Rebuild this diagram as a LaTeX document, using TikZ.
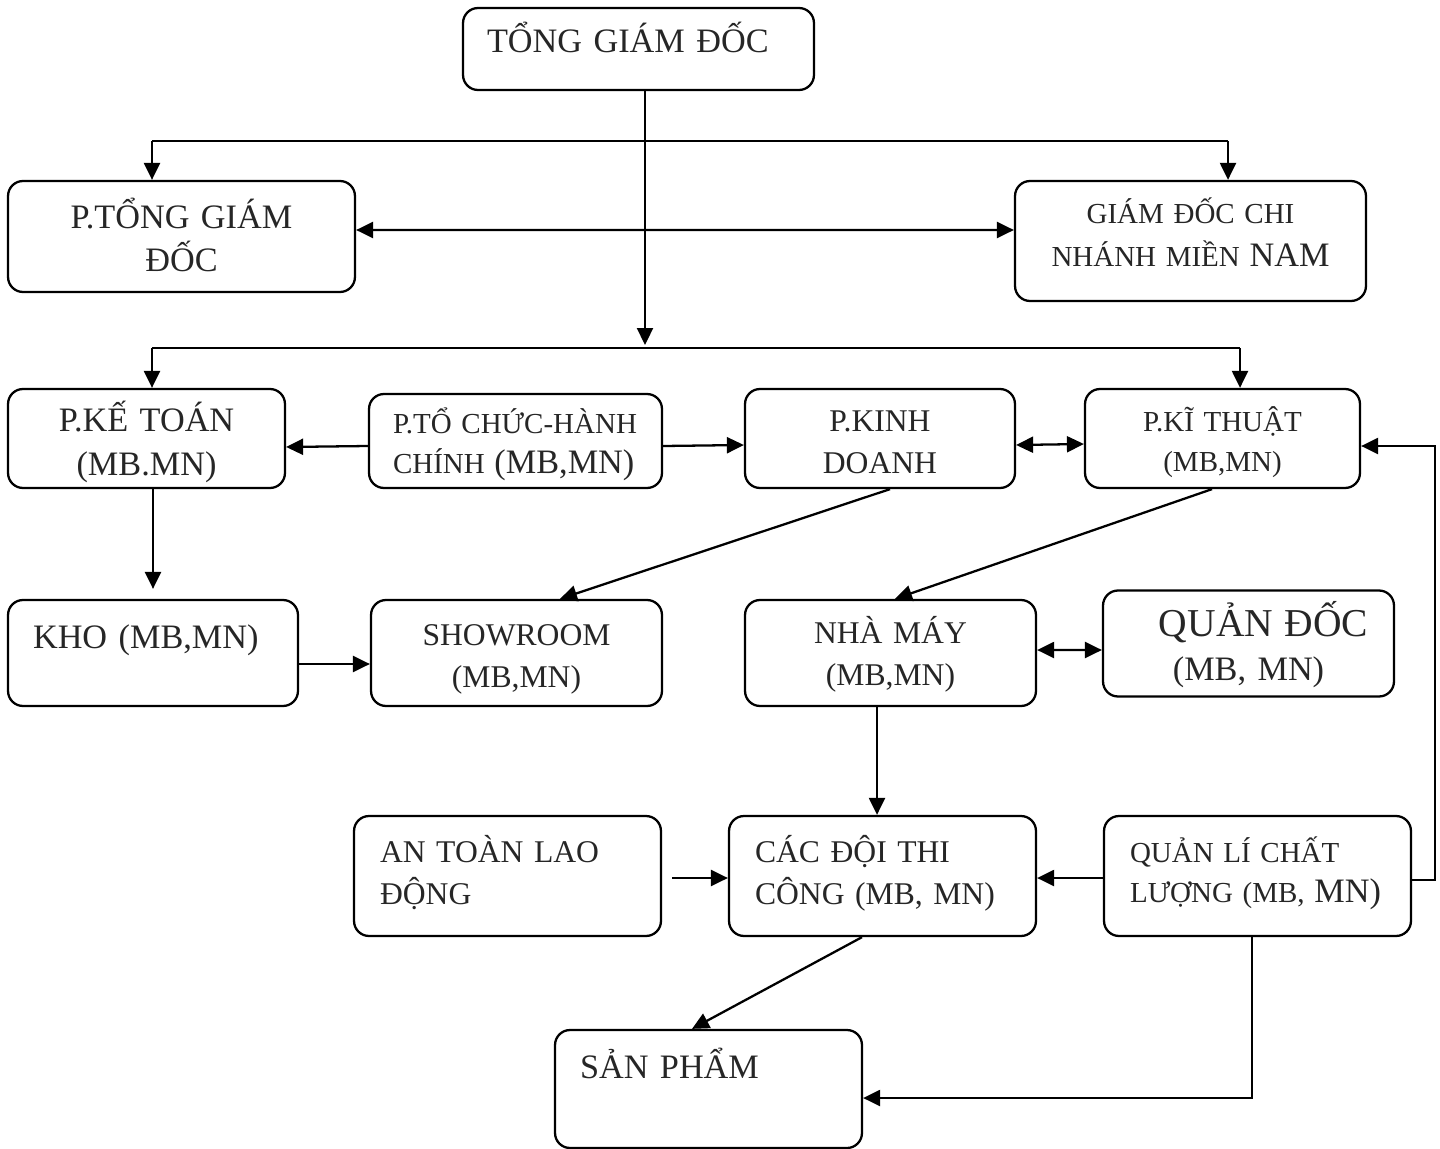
\documentclass[tikz,border=0pt]{standalone}
\usepackage{fontspec}
\setmainfont{Liberation Serif}
\usetikzlibrary{arrows.meta}
\newcommand{\fhuge}{\fontsize{22.5}{27}\selectfont}
\newcommand{\fbig}{\fontsize{19.5}{25}\selectfont}
\newcommand{\fmid}{\fontsize{18}{24}\selectfont}
\newcommand{\fsml}{\fontsize{16.5}{23}\selectfont}
\begin{document}
\begin{tikzpicture}[x=0.02cm, y=-0.02cm,
                box/.style = {draw, line width=1.3pt, rounded corners=0.3cm, inner ysep=0.1cm, text height=0.5cm, text=black!85},
                arr/.style = {draw, line width=1.3pt, -{Triangle[length=0.34cm,width=0.32cm]}},
                dbl/.style = {draw, line width=1.3pt, {Triangle[length=0.34cm,width=0.32cm]}-{Triangle[length=0.34cm,width=0.32cm]}},
                line/.style = {draw, line width=1.3pt},
            ]
            \useasboundingbox (0,0) rectangle (1440,1149);

            \node (tgd) [box, minimum width=7.02cm, minimum height=1.64cm, inner xsep=0.48cm, text width=6.06cm, align=left, font=\fbig, text depth=0.34cm] at (638.5,49) {TỔNG GIÁM ĐỐC};
            \node (ptgd) [box, minimum width=6.94cm, minimum height=2.22cm, inner xsep=0.2cm, text width=6.54cm, align=center, font=\fbig, text depth=0.84cm] at (181.5,236.5) {P.TỔNG GIÁM\\ĐỐC};
            \node (gdcn) [box, minimum width=7.02cm, minimum height=2.4cm, inner xsep=0.2cm, text width=6.62cm, align=center, font=\fsml, text depth=1.22cm] at (1190.5,241) {GIÁM ĐỐC CHI\\[2pt]NHÁNH MIỀN {\fbig NAM}};

            \node (pkt) [box, minimum width=5.54cm, minimum height=1.98cm, inner xsep=0.2cm, text width=5.14cm, align=center, font=\fbig, text depth=0.78cm] at (146.5,438.5) {P.KẾ TOÁN\\(MB.MN)};
            \node (ptc) [box, minimum width=5.86cm, minimum height=1.88cm, inner xsep=0.48cm, text width=4.9cm, align=left, font=\fsml, text depth=0.82cm] at (515.5,441) {P.TỔ CHỨC-HÀNH\\CHÍNH {\fbig (MB,MN)}};
            \node (pkd) [box, minimum width=5.4cm, minimum height=1.98cm, inner xsep=0.2cm, text width=5cm, align=center, font=\fmid, text depth=0.78cm] at (880,438.5) {P.KINH\\DOANH};
            \node (pkth) [box, minimum width=5.5cm, minimum height=1.98cm, inner xsep=0.2cm, text width=5.1cm, align=center, font=\fsml, text depth=0.78cm] at (1222.5,438.5) {P.KĨ THUẬT\\(MB,MN)};

            \node (kho) [box, minimum width=5.8cm, minimum height=2.12cm, inner xsep=0.5cm, text width=4.8cm, align=left, font=\fbig, text depth=0.7cm] at (153,653) {KHO (MB,MN)};
            \node (show) [box, minimum width=5.82cm, minimum height=2.12cm, inner xsep=0.2cm, text width=5.42cm, align=center, font=\fmid, text depth=0.82cm] at (516.5,653) {SHOWROOM\\(MB,MN)};
            \node (nm) [box, minimum width=5.82cm, minimum height=2.12cm, inner xsep=0.2cm, text width=5.42cm, align=center, font=\fmid, text depth=0.9cm] at (890.5,653) {NHÀ MÁY\\(MB,MN)};
            \node (qd) [box, minimum width=5.82cm, minimum height=2.12cm, inner xsep=0.2cm, text width=5.42cm, align=center, font=\fbig, text depth=0.78cm] at (1248.5,643.5) {\hspace*{0.6cm}{\fhuge QUẢN ĐỐC}\\(MB, MN)};

            \node (atld) [box, minimum width=6.14cm, minimum height=2.4cm, inner xsep=0.52cm, text width=5.1cm, align=left, font=\fmid, text depth=1.06cm] at (507.5,876) {AN TOÀN LAO\\ĐỘNG};
            \node (cdtc) [box, minimum width=6.14cm, minimum height=2.4cm, inner xsep=0.52cm, text width=5.1cm, align=left, font=\fmid, text depth=1.06cm] at (882.5,876) {CÁC ĐỘI THI\\CÔNG (MB, MN)};
            \node (qlcl) [box, minimum width=6.14cm, minimum height=2.4cm, inner xsep=0.52cm, text width=5.1cm, align=left, font=\fsml, text depth=1.06cm] at (1257.5,876) {QUẢN LÍ CHẤT\\LƯỢNG (MB, {\fbig MN)}};
            \node (sp) [box, minimum width=6.14cm, minimum height=2.36cm, inner xsep=0.5cm, text width=5.14cm, align=left, font=\fbig, text depth=0.94cm] at (708.5,1089) {SẢN PHẨM};

            \coordinate (trunk) at (645,345);
            \coordinate (busA) at (152,141);
            \coordinate (busB) at (1228,141);
            \coordinate (busC) at (152,348);
            \coordinate (busD) at (1240,348);

            \path[arr] (tgd.south -| trunk) -- (trunk);
            \path[line] (busA) -- (busB);
            \path[arr] (busA) -- (busA |- ptgd.north);
            \path[arr] (busB) -- (busB |- gdcn.north);
            \path[dbl] ([yshift=0.13cm]ptgd.east) -- ([yshift=0.22cm]gdcn.west);

            \path[line] (busC) -- (busD);
            \path[arr] (busC) -- (busC |- pkt.north);
            \path[arr] (busD) -- (busD |- pkth.north);

            \path[arr] ([yshift=-0.1cm]ptc.west) -- ([yshift=-0.17cm]pkt.east);
            \path[arr] ([yshift=-0.1cm]ptc.east) -- ([yshift=-0.13cm]pkd.west);
            \path[dbl] ([yshift=-0.13cm]pkd.east) -- ([yshift=-0.11cm]pkth.west);

            \path[arr] (pkt.south -| kho.north) -- ([yshift=0.2cm]kho.north);
            \path[arr] ([xshift=0.2cm]pkd.south) -- ([xshift=0.87cm]show.north);
            \path[arr] ([xshift=-0.21cm]pkth.south) -- ([xshift=0.09cm]nm.north);
            \path[arr] ([yshift=-0.22cm]kho.east) -- ([yshift=-0.22cm]show.west);
            \path[dbl] ([yshift=0.06cm]nm.east) -- ([yshift=-0.13cm]qd.west);

            \path[arr] ([xshift=-0.27cm]nm.south) -- ([xshift=-0.27cm]nm.south |- cdtc.north);
            \path[arr] ([xshift=0.2cm,yshift=-0.04cm]atld.east) -- ([yshift=-0.04cm]cdtc.west);
            \path[arr] ([yshift=-0.04cm]qlcl.west) -- ([yshift=-0.04cm]cdtc.east);
            \path[arr] ([yshift=-0.08cm]qlcl.east) -- ++(0.46cm,0) |- ([yshift=-0.15cm]pkth.east);

            \path[arr] ([xshift=-0.41cm]cdtc.south) -- ([xshift=-0.33cm]sp.north);
            \path[arr] ([xshift=-0.11cm]qlcl.south) |- ([yshift=-0.18cm]sp.east);
        \end{tikzpicture}
\end{document}
